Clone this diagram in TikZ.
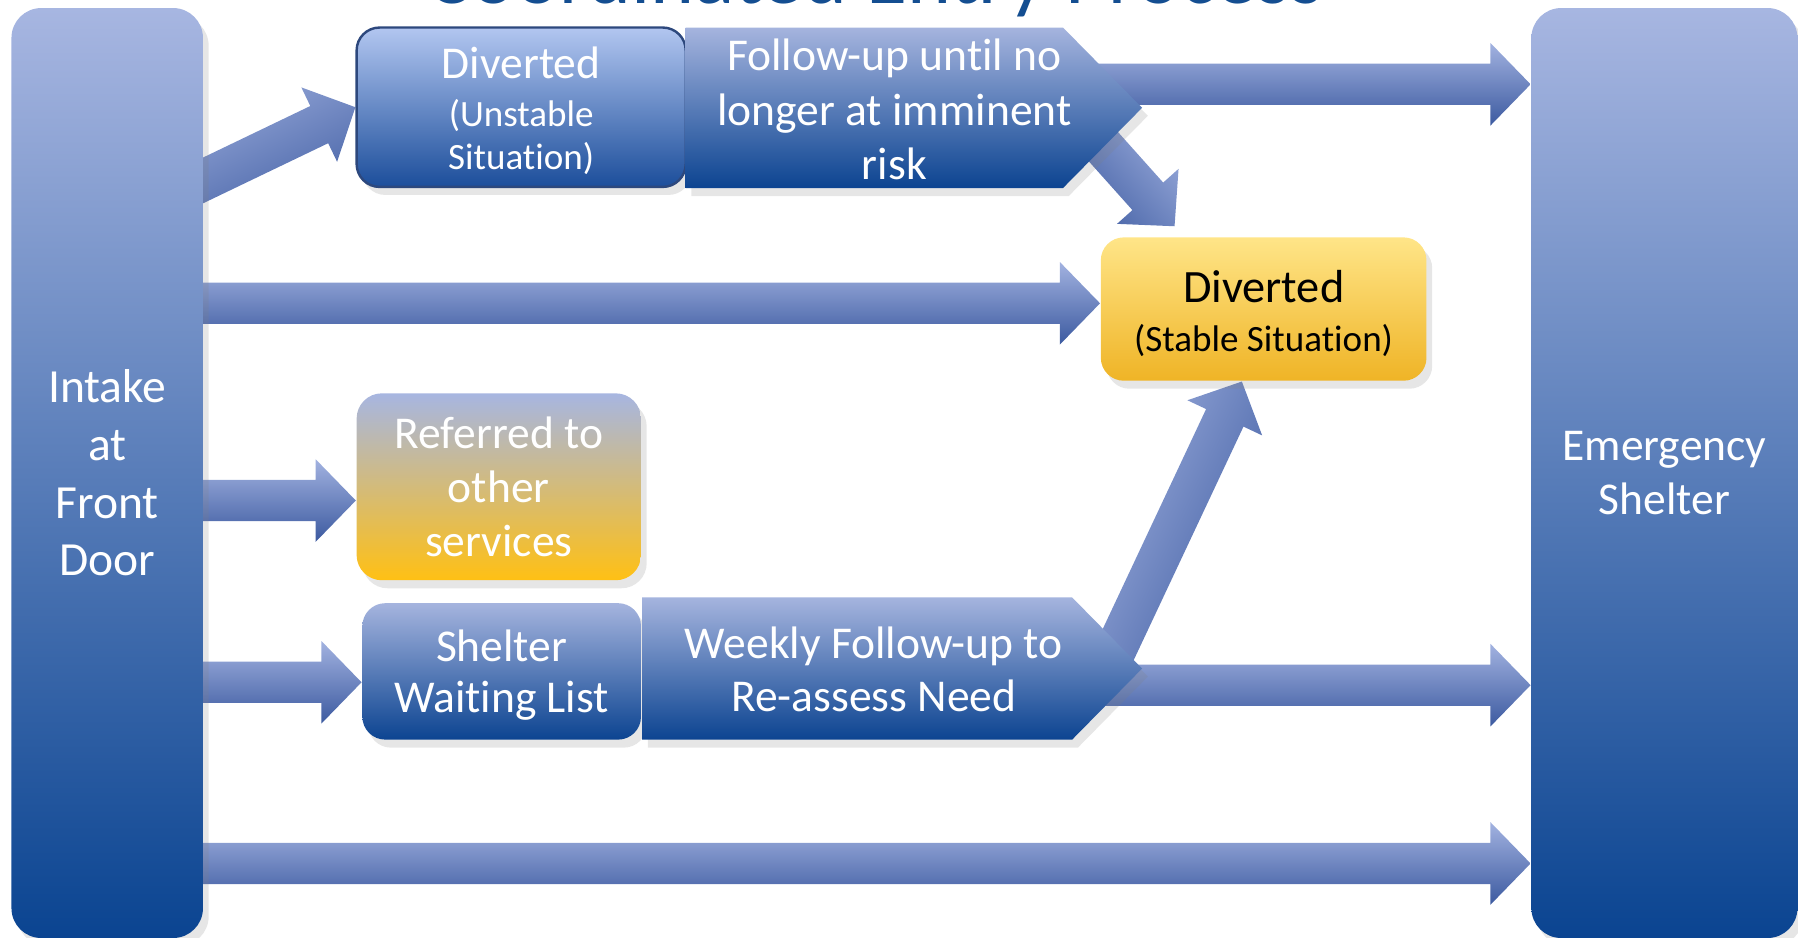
\documentclass[tikz,border=0pt]{standalone}
\usepackage{fontspec}
\setmainfont{Carlito}[Ligatures=NoCommon]
\usetikzlibrary{calc,backgrounds,shadows}

\definecolor{titleblue}{RGB}{20,78,145}
\definecolor{colTop}{RGB}{167,182,225}
\definecolor{colMid}{RGB}{118,140,198}
\definecolor{colBot}{RGB}{10,68,145}
\definecolor{boxTop}{RGB}{178,198,240}
\definecolor{boxBot}{RGB}{28,78,155}
\definecolor{boxLine}{RGB}{45,72,125}
\definecolor{chevTop}{RGB}{165,180,222}
\definecolor{chevBot}{RGB}{12,68,145}
\definecolor{arrTop}{RGB}{162,178,224}
\definecolor{arrBot}{RGB}{60,90,160}
\definecolor{yelTop}{RGB}{255,229,136}
\definecolor{yelBot}{RGB}{239,180,38}
\definecolor{refMid}{RGB}{205,188,192}
\definecolor{refBot}{RGB}{255,192,20}

\begin{document}
\begin{tikzpicture}[x=0.1mm,y=-0.1mm,
  big/.style={font=\fontsize{11.3}{13.5}\selectfont},
  small/.style={font=\fontsize{9.2}{10.8}\selectfont},
  box/.style={rounded corners=2mm, text=white, align=center, inner sep=0pt,
    drop shadow={shadow xshift=0.5mm, shadow yshift=-0.7mm, opacity=0.2}},
  bluebox/.style={box, top color=chevTop, bottom color=chevBot},
  column/.style={box, big, rounded corners=2.6mm, top color=colTop, middle color=colMid, bottom color=colBot},
  chevron/.style={top color=chevTop, bottom color=chevBot,
    drop shadow={shadow xshift=0.5mm, shadow yshift=-0.7mm, opacity=0.2}},
  arrowshade/.style={top color=arrTop, bottom color=arrBot},
  blockarrow/.style={to path={
    let \p1=(\tikztostart), \p2=(\tikztotarget),
        \n1={atan2(\y2-\y1,\x2-\x1)} in
    ($(\tikztostart)+(\n1+90:1.8mm)$)
    -- ($(\tikztotarget)+(\n1+180:3.5mm)+(\n1+90:1.8mm)$)
    -- ($(\tikztotarget)+(\n1+180:3.5mm)+(\n1+90:3.6mm)$)
    -- (\tikztotarget)
    -- ($(\tikztotarget)+(\n1+180:3.5mm)+(\n1-90:3.6mm)$)
    -- ($(\tikztotarget)+(\n1+180:3.5mm)+(\n1-90:1.8mm)$)
    -- ($(\tikztostart)+(\n1-90:1.8mm)$) -- cycle}}]
\useasboundingbox (0,0) rectangle (1568,818);

% title, cut by the page edge
\node[anchor=base, text=titleblue, font=\fontsize{20.8}{24}\selectfont] (title) at (763,3) {Coordinated Entry Process};

% the two columns
\node[column, font=\fontsize{11.8}{14.3}\selectfont, minimum width=16.7mm, minimum height=81.1mm] (intake) at (93.5,412.5) {Intake\\at\\Front\\Door};
\node[column, minimum width=23.2mm, minimum height=81.1mm, font=\fontsize{11.3}{13.4}\selectfont] (es) at (1451.5,412.5) {Emergency\\Shelter};

% top row
\node[box, small, top color=boxTop, bottom color=boxBot, draw=boxLine, line width=0.6pt,
  minimum width=28.7mm, minimum height=13.9mm] (divu) at (454.5,93.5)
  {\rule{0pt}{3.4mm}{\fontsize{11.3}{12}\selectfont Diverted}\\[1.1pt](Unstable\\Situation)};
\path[chevron] (598,24) -- (927,24) -- (996,94) -- (927,164) -- (598,164) -- cycle;
\node[big, text=white, align=center] (fu) at (780,95.5) {Follow-up until no\\longer at imminent\\risk};
\coordinate (fuout) at (923,84);

% stable diversion
\node[box, small, text=black, top color=yelTop, bottom color=yelBot,
  minimum width=28.4mm, minimum height=12.5mm] (yel) at (1102,269.5)
  {\rule{0pt}{3.6mm}{\fontsize{11.5}{12}\selectfont Diverted}\\[1.2pt](Stable Situation)};

% referral
\node[box, big, top color=colTop, middle color=refMid, bottom color=refBot,
  rounded corners=2.2mm, font=\fontsize{11.3}{13.4}\selectfont,
  minimum width=24.8mm, minimum height=16.3mm] (ref) at (435,424.5) {Referred to\\other\\services};

% waiting list row
\node[bluebox, font=\fontsize{11.3}{12.8}\selectfont,
  minimum width=24.3mm, minimum height=11.9mm] (swl) at (437.5,585.5) {\rule{0pt}{3.4mm}Shelter\\Waiting List};
\path[chevron] (560,521) -- (935,521) -- (996,583) -- (935,645) -- (560,645) -- cycle;
\node[text=white, align=center, font=\fontsize{11.3}{13.1}\selectfont] (wk) at (762,584) {Weekly Follow-up to\\Re-assess Need};
\coordinate (wkout) at (955,605);

% block arrows, behind the boxes
\begin{scope}[on background layer]
\path[arrowshade, shading angle=25.6] (intake |- 0,197.5) to[blockarrow] (divu.west);
\path[arrowshade] (fu |- 0,73.5) to[blockarrow] (es.west |- 0,73.5);
\path[arrowshade, shading angle=-48] (fuout) to[blockarrow] ($(yel.north west)+(65,-9)$);
\path[arrowshade] (intake |- 0,264.5) to[blockarrow] (yel.west |- 0,264.5);
\path[arrowshade] (intake |- 0,436.5) to[blockarrow] (ref.west |- 0,436.5);
\path[arrowshade] (intake |- 0,595) to[blockarrow] (swl.west |- 0,595);
\path[arrowshade, shading angle=65] (wkout) to[blockarrow] ($(yel.south)+(-19,0)$);
\path[arrowshade] (wk |- 0,597.5) to[blockarrow] (es.west |- 0,597.5);
\path[arrowshade] (intake |- 0,753) to[blockarrow] (es.west |- 0,753);
\end{scope}
\end{tikzpicture}
\end{document}
